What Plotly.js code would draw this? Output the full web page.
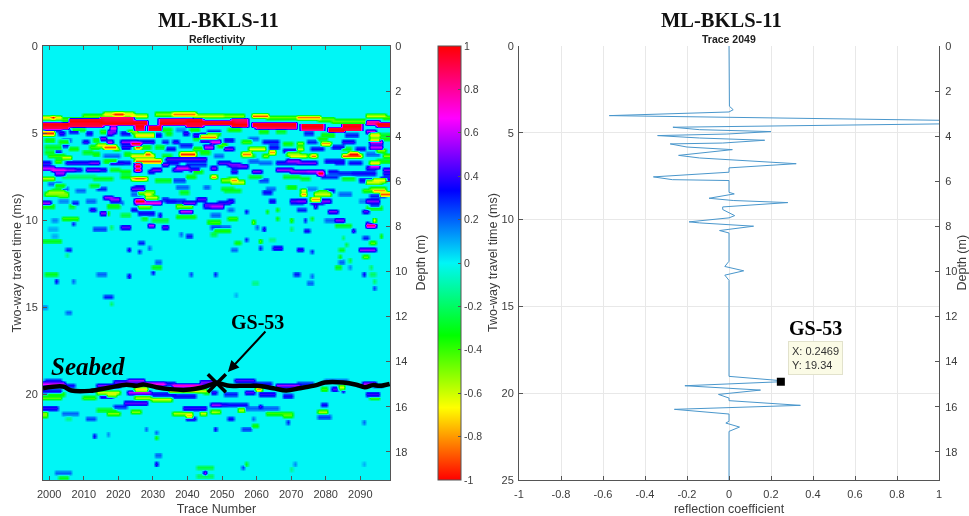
<!DOCTYPE html>
<html>
<head>
<meta charset="utf-8">
<script src="https://cdn.plot.ly/plotly-3.0.1.min.js"></script>
<style>html,body{margin:0;padding:0;background:#fff;overflow:hidden}#plot{width:969px;height:516px;filter:blur(0.5px)}</style>
</head>
<body>
<div id="plot"></div>
<script>
// Reflectivity section: each entry = [time ms, first trace, last trace, reflectivity]
const upperBandNegative = [
[4.05,1998,2003,-.7],[4.1,2001,2001,-1],[4.15,2004,2010,-.4],[4.0,2010,2016,-.45],[3.9,2016,2024,-.7],[3.9,2019,2021,-.95],
[3.95,2024,2028,-.65],[3.9,2031,2036,-.5],[3.85,2036,2042,-.85],[3.95,2042,2050,-.6],[3.95,2050,2056,-.5],[3.95,2059,2063,-.9],
[4.05,2063,2072,-.45],[4.1,2072,2078,-.85],[4.2,2078,2082,-.45],[4.3,2082,2091,-.45],[4.0,2092,2097,-.6],[4.1,2097,2098,-.4]];
const upperBandPositive = [
[4.47,1998,2005,1],[4.6,1998,2005,.95],[4.33,2006,2015,1],[4.45,2006,2015,.95],[4.22,2015,2024,.9],[4.35,2015,2024,1],
[4.4,2024,2028,1],[4.55,2025,2027,1],[4.7,2025,2027,.9],[4.73,2029,2032,1],[4.27,2032,2039,.95],[4.38,2032,2039,1],
[4.33,2040,2044,1],[4.45,2040,2044,.95],[4.37,2045,2053,1],[4.45,2053,2057,1],[4.3,2053,2057,.9],
[4.47,2059,2071,1],[4.58,2060,2071,.9],[4.58,2073,2079,1],[4.7,2073,2079,.85],[4.8,2081,2085,1],[4.62,2085,2090,1],[4.72,2085,2090,.95],
[4.4,2092,2095,.8],[4.5,2095,2098,1]];
const layer5ms = [
[4.8,1999,2003,.35],[4.75,2007,2010,-.3],[4.85,2017,2019,.5],[4.7,2018,2019,.7],[4.95,2021,2023,.35],[4.8,2033,2035,-.35],[4.75,2037,2039,.15],
[4.8,2041,2043,-.35],[4.85,2046,2049,.3],[4.8,2052,2055,-.35],[4.9,2061,2063,-.35],[4.85,2066,2068,-.3],[4.95,2074,2076,.3],[5.05,2079,2082,-.35],
[5.05,2086,2089,.3],[4.85,2092,2094,.6],[5.1,2093,2095,-.7],[5.05,2096,2098,-.3],
[5.0,1998,2001,-.95],[5.0,2003,2004,.4],[4.85,2006,2008,.35],[5.0,2011,2012,.35],[4.9,2015,2016,-.4],[5.0,2017,2018,.5],[4.9,2023,2025,-.5],
[5.1,2025,2030,-.7],[5.1,2031,2032,.35],[5.0,2034,2035,-.35],[4.95,2039,2040,.4],[5.05,2042,2045,.4],[5.0,2046,2049,-.4],[5.2,2044,2048,-.85]];
const layer5p5ms = [
[5.4,1999,2001,-.35],[5.35,2004,2006,.2],[5.5,2003,2005,-.35],[5.45,2010,2011,.4],[5.4,2013,2014,-.35],[5.3,2015,2016,.5],[5.5,2017,2018,.6],
[5.5,2021,2025,.55],[5.5,2025,2030,.4],[5.6,2024,2026,1],[5.45,2033,2034,.3],[5.5,2036,2037,.4],[5.3,2042,2044,-.3],[5.4,2044,2047,.45],[5.45,2047,2049,.7],
[5.4,2051,2053,.35],[5.5,2056,2058,-.4],[5.3,2058,2060,.2],[5.5,2062,2066,.35],[5.55,2068,2070,-.35],[5.6,2072,2073,-.5],[5.45,2075,2077,.3],
[5.3,2078,2080,-.35],[5.55,2079,2081,-.8],[5.5,2085,2088,.4],[5.4,2093,2095,-.7],[5.5,2093,2096,.7],[5.3,2096,2098,-.35],
[5.75,1999,2003,-.3],[5.7,2004,2005,.3],[5.85,2006,2008,-.35],[5.75,2012,2014,-.4],[5.7,2014,2016,-.6],[5.8,2016,2019,-.9],[5.85,2019,2020,-.5],
[5.75,2021,2023,.4],[5.8,2025,2026,-.9],[5.75,2027,2029,-.35],[5.8,2031,2033,-.3],[5.85,2034,2036,.35],[5.7,2038,2041,.3],[5.85,2042,2045,-.4],
[5.8,2045,2047,.6],[5.7,2049,2051,-.4],[5.85,2051,2053,.5],[5.9,2058,2062,-.65],[5.8,2064,2066,.35],[5.95,2068,2071,.4],[5.85,2072,2073,-.6],
[5.9,2076,2079,.35],[5.75,2082,2085,.35],[5.9,2085,2087,-.3],[5.85,2089,2091,.35],[5.8,2093,2096,.6],[5.95,2095,2097,-.5]];
const layer6ms = [
[6.1,1999,2001,-.3],[6.1,2002,2003,.3],[6.3,2000,2004,-.4],[6.35,2004,2006,-.6],[6.1,2010,2012,-.3],[6.2,2013,2014,-.35],[6.3,2016,2020,.2],
[6.15,2022,2023,-.35],[6.25,2024,2030,-.7],[6.2,2028,2029,-.9],[6.3,2033,2035,-.3],[6.15,2038,2042,-.95],[6.1,2044,2046,-.35],[6.25,2048,2050,.2],
[6.3,2056,2059,-.35],[6.15,2056,2058,-.85],[6.05,2064,2065,-.8],[6.3,2062,2063,-.5],[6.2,2069,2072,-.55],[6.3,2070,2074,-.65],[6.25,2075,2077,-.35],
[6.3,2076,2077,-.85],[6.25,2085,2090,-.9],[6.2,2087,2089,-1],[6.15,2092,2095,.2],[6.3,2097,2098,-.5]];
const layer7ms = [
[6.7,1998,2000,.4],[6.6,2002,2003,-.4],[6.7,2005,2012,.4],[6.7,2012,2014,.5],[6.6,2016,2019,-.35],[6.65,2018,2021,.4],[6.7,2021,2023,.35],
[6.6,2025,2032,-.9],[6.7,2025,2026,1],[6.9,2025,2026,1],[7.1,2025,2026,1],[6.75,2033,2034,.5],[6.45,2034,2045,.45],[6.7,2035,2037,.35],[6.75,2040,2045,.3],
[6.7,2049,2052,.45],[6.75,2052,2055,.5],[6.9,2053,2056,.45],[6.9,2055,2057,.5],[6.6,2058,2060,.2],[6.7,2061,2064,.2],[6.65,2066,2072,.4],[6.7,2072,2077,.5],
[6.6,2069,2072,.55],[6.55,2080,2085,.35],[6.7,2083,2085,.35],[6.7,2087,2090,.35],[6.85,2093,2095,.65],[6.7,2093,2095,-.7],[6.55,2095,2098,-.35],[6.95,2092,2094,.4],
[7.0,1998,2001,.6],[7.05,2001,2004,.7],[7.3,2002,2004,.55],[7.05,2004,2007,.55],[7.05,2008,2009,.4],[7.05,2011,2014,.5],[7.1,2014,2016,.4],[7.1,2018,2020,-.3],
[7.2,2021,2023,-.35],[7.1,2030,2032,.5],[7.2,2029,2030,.4],[7.1,2036,2038,.45],[7.0,2037,2040,.6],[7.1,2041,2043,.45],[7.2,2042,2044,-.35],[7.0,2047,2048,.5],
[7.2,2053,2054,.4],[7.2,2059,2061,.5],[7.05,2066,2070,.55],[7.15,2070,2075,.55],[7.2,2075,2079,.6],[7.25,2078,2079,1],[7.15,2081,2083,.35],[7.25,2084,2088,.3],
[7.3,2088,2090,.35],[7.1,2097,2098,.5],[7.3,2097,2098,.4],[7.3,2091,2094,.35]];
const layer7p7ms = [
[7.55,1998,2000,-.4],[7.6,1998,2001,-.55],[7.45,2004,2010,-.2],[7.5,2011,2013,-.2],[7.6,2013,2018,-.3],[7.5,2021,2023,-.35],[7.55,2024,2028,-.75],[7.6,2025,2027,-.9],
[7.7,2031,2035,-.3],[7.7,2036,2039,.25],[7.45,2040,2042,-.35],[7.5,2047,2048,-.8],[7.6,2052,2054,-.4],[7.65,2050,2053,-.5],[7.7,2053,2054,-.8],[7.75,2053,2056,-.6],
[7.5,2058,2061,-.3],[7.65,2061,2063,.25],[7.5,2068,2072,-.3],[7.6,2073,2075,-.3],[7.5,2079,2083,.3],[7.55,2085,2088,-.3],[7.65,2090,2093,.35],[7.75,2092,2095,-.6],
[7.65,2094,2097,-.65],[7.8,2093,2096,-.5],[7.6,2096,2098,.4],[7.85,2000,2003,.2]];
const layer8p5ms = [
[8.0,2002,2004,-.35],[8.15,2003,2005,.2],[8.25,2001,2003,-.4],[8.4,2000,2004,-.55],[8.5,1999,2005,-.5],[8.6,2003,2005,-.45],[8.3,2008,2010,.2],[8.0,2012,2014,-.3],
[8.2,2014,2016,.3],[8.2,2024,2027,.5],[8.1,2025,2027,.4],[8.45,2024,2026,.2],[8.4,2026,2030,-.5],[8.5,2028,2029,-.7],[8.1,2037,2040,.2],[8.4,2038,2040,-.3],
[8.1,2045,2046,.2],[8.2,2050,2053,-.3],[8.3,2051,2055,-.3],[8.15,2063,2065,.2],[8.4,2062,2064,.35],[8.1,2069,2071,-.35],[8.3,2073,2074,-.65],[8.45,2073,2074,-.8],
[8.2,2075,2077,.15],[8.4,2078,2080,-.5],[8.5,2077,2081,-.6],[8.25,2080,2082,.35],[8.5,2084,2087,.2],[8.3,2091,2094,-.4],[8.15,2093,2097,-.5],[8.3,2094,2097,-.8],
[8.45,2096,2098,-.9],[8.6,2093,2097,.3],
[8.95,1998,2000,.55],[8.85,2003,2005,.15],[8.95,2007,2008,.3],[8.85,2011,2013,.2],[8.7,2016,2018,.55],[8.8,2018,2020,.55],[9.0,2018,2021,.2],
[8.85,2025,2027,1],[8.7,2028,2031,-.6],[8.95,2025,2032,.7],[8.85,2034,2036,.35],[8.75,2033,2034,.3],[8.9,2037,2039,.3],[8.95,2039,2042,.5],[8.8,2043,2045,.45],
[9.1,2045,2049,.45],[9.0,2049,2052,.4],[8.85,2052,2053,.4],[8.9,2064,2065,.35],[8.9,2070,2072,.45],[8.85,2072,2074,.5],[9.0,2070,2073,.3],[8.8,2076,2078,-.8],
[8.95,2076,2079,.4],[8.9,2079,2081,.5],[8.9,2090,2092,.15],[8.85,2092,2095,.5],[9.05,2093,2095,.3],[9.3,2092,2096,-.3]];
const scatterLeft = [
[9.2,1998,2001,-.35],[9.15,2006,2007,-.3],[9.4,2012,2013,.4],[9.6,2015,2016,.5],[9.6,2017,2017,-.35],[9.15,2017,2020,-.35],[9.7,2021,2023,-.25],[9.4,2024,2025,.35],
[9.2,2026,2029,-.5],[9.55,2026,2030,.35],[9.85,2027,2028,-.3],[9.7,2032,2032,.4],[9.95,2030,2034,-.25],[9.2,2037,2041,-.5],[9.47,2038,2041,.6],[9.8,2037,2042,-.35],
[9.15,2045,2048,.45],[9.7,2047,2049,.2],[10.1,2046,2049,-.35],[10.4,2047,2049,.25],[9.9,2004,2008,-.4],[10.0,2001,2002,.15],[10.2,2007,2007,.3],[10.45,2013,2016,.25],
[10.4,2021,2023,.45],[10.27,2029,2030,.6],[10.37,2033,2034,.45],[10.45,2000,2002,.1],[10.35,2018,2018,-.2],[11.15,1998,2003,-.3],[10.85,2001,2002,.1],[11.7,2005,2006,.3],
[11.7,2023,2023,.4],[11.3,2026,2027,.3],[11.8,2026,2026,.3],[11.6,2029,2029,.2],[12.65,2030,2032,-.3],[12.4,2031,2032,.2],[10.85,2040,2041,.3],[10.75,2038,2038,.2],
[10.75,2048,2048,-.2],[13.05,1999,2002,-.3],[13.45,2002,2002,.35],[13.5,2007,2007,.2],[13.1,2014,2016,.2],[13.2,2023,2023,.4],[12.95,2030,2030,.35],[13.1,2041,2041,.25],
[13.05,2048,2048,.3],[14.4,2016,2018,.3],[14.8,2018,2018,-.2],[15.3,2005,2006,.2],[15.0,1998,1999,.15],[12.0,2005,2005,-.15]];
const scatterRight = [
[9.15,2047,2050,.6],[9.45,2057,2057,.35],[9.4,2052,2053,.2],[9.45,2063,2063,-.35],[9.4,2066,2066,-.35],[9.4,2072,2074,.3],[9.15,2077,2077,.5],[9.45,2081,2083,.5],
[9.5,2091,2092,.45],[9.7,2047,2049,.2],[10.1,2047,2049,-.4],[9.9,2052,2054,-.4],[10.1,2059,2059,-.5],[9.9,2066,2066,-.35],[10.0,2070,2070,-.4],[9.95,2074,2074,.3],
[9.85,2076,2076,-.3],[10.0,2083,2085,.5],[9.95,2080,2082,.2],[10.0,2094,2094,-.65],[10.2,2092,2092,.5],[10.3,2092,2094,.9],[10.4,2047,2052,.2],[10.6,2048,2052,-.35],
[10.4,2060,2060,.2],[10.5,2062,2062,.4],[10.45,2070,2070,-.2],[10.55,2074,2075,.35],[10.3,2083,2087,-.3],[10.55,2088,2088,.45],[10.95,2091,2092,.3],[10.85,2096,2096,-.35],
[10.75,2047,2048,-.25],[11.3,2054,2055,-.35],[11.1,2057,2057,.3],[11.2,2061,2061,-.45],[11.05,2064,2065,-.15],[10.95,2085,2085,-.2],[11.55,2061,2061,.3],[11.55,2065,2067,.4],
[11.65,2053,2054,.2],[11.65,2072,2073,.4],[11.8,2076,2076,.3],[11.7,2084,2085,-.3],[11.4,2086,2086,-.25],[11.7,2090,2094,.55],[11.3,2093,2094,-.45],[12.1,2091,2092,-.45],
[12.1,2084,2084,-.35],[12.4,2084,2085,.2],[12.3,2087,2087,-.25],[12.65,2083,2084,-.3],[12.65,2087,2087,.15],[12.7,2093,2093,-.2],[13.05,2048,2048,.3],[13.05,2071,2072,.3],
[13.2,2076,2076,.2],[13.05,2091,2091,.35],[13.05,2093,2094,-.2],[13.45,2094,2094,-.2],[13.55,2059,2060,-.15],[13.6,2075,2076,.2],[13.9,2094,2094,.25],[14.25,2054,2054,.1]];
const seabedUpper = [
[19.35,1998,2004,.65],[19.2,1999,2003,.3],[19.46,2004,2007,.35],[19.46,2014,2020,.5],[19.3,2019,2026,.45],[19.2,2023,2027,.55],[19.37,2028,2033,.7],[19.4,2033,2036,.4],
[19.5,2036,2044,.75],[19.27,2044,2048,.5],[19.2,2054,2059,.45],[19.35,2059,2064,.35],[19.5,2066,2072,.55],[19.35,2072,2076,.3],[19.2,2080,2086,.2],[19.4,2091,2094,.6],[19.45,2094,2096,.25]];
const seabedLower = [
[19.75,1998,2003,.35],[20.0,2000,2004,-.35],[20.15,1998,2003,-.45],[20.2,2010,2013,-.4],[20.05,2015,2018,.4],[20.0,2017,2019,-.6],[19.9,2014,2020,-.6],[19.85,2023,2029,.6],
[19.65,2025,2028,-.7],[20.2,2025,2029,-.55],[20.3,2030,2035,-.6],[20.0,2029,2036,.35],[20.05,2036,2042,.35],[19.8,2035,2045,-.6],[19.85,2045,2048,-.35],
[20.5,2022,2028,.45],[20.65,2019,2022,.3],[20.9,2014,2019,-.3],[21.05,2017,2020,-.5],[20.95,2024,2026,-.5],[20.8,1998,2002,.4],[21.1,1998,1999,-.5],[21.15,1998,1999,-.5],
[21.1,2004,2008,.2],[21.4,2011,2013,.25],[21.05,2036,2041,-.55],[21.15,2040,2041,-.75],[21.1,2044,2045,-.6],[20.75,2039,2045,.4],[20.6,2047,2049,.55],[20.95,2047,2049,-.5],
[21.4,2040,2042,.4],[21.4,2005,2006,-.15],[21.95,2048,2048,.35],[22.0,2028,2028,.2],[22.15,2031,2031,.2],[22.45,2031,2031,-.35],[22.35,2013,2013,.35],[22.25,2017,2017,.15],
[23.5,2031,2032,.2],[23.95,2031,2031,.4],[24.5,2002,2006,.2],[24.8,2003,2005,-.3],[24.15,2043,2046,-.25],[24.45,2045,2045,.55],[24.7,2043,2047,-.2],
[19.85,2047,2048,.4],[20.0,2051,2054,.3],[19.85,2057,2059,.45],[19.7,2060,2061,-.8],[19.95,2061,2065,.4],[20.05,2068,2070,.35],[19.65,2079,2080,-.4],[19.7,2082,2083,.45],
[19.8,2085,2085,.4],[19.55,2084,2085,-.6],[20.0,2092,2095,.4],[20.2,2093,2095,-.4],[20.6,2047,2051,.4],[20.55,2051,2057,.35],[20.7,2061,2061,.45],[20.8,2057,2066,.2],
[20.95,2047,2048,-.55],[20.9,2055,2056,-.55],[21.1,2063,2070,-.4],[21.2,2068,2070,-.45],[20.6,2079,2080,.35],[21.0,2078,2080,-.55],[21.3,2078,2081,.25],[21.75,2059,2060,-.35],
[21.4,2052,2053,.35],[21.4,2059,2059,.2],[21.57,2069,2069,.3],[21.57,2091,2091,.2],[21.95,2056,2058,.25],[23.95,2057,2057,-.3],[24.2,2056,2056,.25],[23.95,2071,2071,.15],
[24.25,2070,2070,-.15],[24.2,2047,2047,-.25],[23.95,2091,2091,.1]];

const seabedTrace = [1998.2,2004,2006.4,2011.7,2017.5,2022.3,2025.2,2027.2,2031,2034.9,2039.7,2044.5,2048.4,2052.2,2055.1,2060,2064.8,2068.6,2072.5,2077.3,2079.7,2085,2088.9,2091.3,2093.7,2095.6,2098.5];
const seabedTime = [19.66,19.56,19.79,19.81,19.62,19.46,19.52,19.44,19.6,19.71,19.75,19.6,19.37,19.52,19.52,19.52,19.66,19.79,19.66,19.48,19.33,19.33,19.46,19.6,19.48,19.52,19.41];

const curveValue = [0,0,.002,.02,0,-.57,1.65,-.267,-.14,.2,-.01,-.34,-.14,.17,-.03,-.28,-.2,.016,-.24,-.14,.32,0,0,-.36,-.27,0,0,.025,-.095,.02,.28,-.03,-.03,.027,0,-.19,-.14,.117,-.045,0,0,-.02,.07,-.02,0,0,.23,.2469,-.21,.15,-.05,0,0,.34,-.26,0,0,-.015,.05,0,0];
const curveTime = [0,3.09,3.47,3.67,3.8,4.01,4.39,4.68,4.82,4.93,5.07,5.16,5.3,5.43,5.59,5.64,5.82,5.97,6.3,6.45,6.78,7.02,7.27,7.54,7.7,7.75,8.43,8.52,8.77,8.9,9.02,9.27,9.42,9.77,9.9,10.13,10.19,10.38,10.63,10.77,12.4,12.7,12.95,13.2,13.5,19.03,19.26,19.34,19.57,19.82,20.07,20.28,20.43,20.7,20.93,21.2,21.62,21.72,21.95,22.2,25];

const colourStops = [[0,'#ff0000'],[1/6,'#ffff00'],[2/6,'#00ff00'],[3/6,'#00f6f6'],[4/6,'#0000ff'],[5/6,'#ff00ff'],[1,'#ff0000']];
const colourTicks = [-1,-.8,-.6,-.4,-.2,0,.2,.4,.6,.8,1];
const depthTicks = [0,2,4,6,8,10,12,14,16,18];
const traceTicks = [2000,2010,2020,2030,2040,2050,2060,2070,2080,2090];
const coefTicks = [-1,-.8,-.6,-.4,-.2,0,.2,.4,.6,.8,1];
const coefLabels = ['-1','-0.8','-0.6','-0.4','-0.2','0','0.2','0.4','0.6','0.8','1'];

const traces = []; for (let t=1998;t<=2098;t++) traces.push(t);
const times = []; for (let i=0;i<=250;i++) times.push(i/10);
const z = times.map(()=>traces.map(()=>0));
const put=(r,c,v)=>{ if(r<0||r>250||c<1998||c>2098)return; const cur=z[r][c-1998]; if(Math.abs(v)>Math.abs(cur)) z[r][c-1998]=v; };
const paint=(list,edge)=>list.forEach(([t,a,b,v])=>{
  const r=Math.round(t*10);
  [[0,1],[-1,edge],[1,edge]].forEach(([dr,w])=>{ for(let c=a;c<=b;c++) put(r+dr,c,v*w); });
});
paint(upperBandPositive,.95);
[upperBandNegative,layer5ms,layer5p5ms,layer6ms,layer7ms,layer7p7ms,layer8p5ms,scatterLeft,scatterRight,seabedUpper,seabedLower].forEach(l=>paint(l,.7));

const sans="'Liberation Sans',Arial,sans-serif", serif="'Liberation Serif','Times New Roman',serif";
const ink='#3c3c3c';
const W=969,H=516;
const fx=p=>p/W, fy=p=>1-p/H;
const axisBase={showline:true,linecolor:'#555',linewidth:1,ticks:'inside',ticklen:4,tickcolor:'#555',tickwidth:1,zeroline:false,showgrid:false,tickfont:{family:sans,size:11,color:ink}};
const tf={family:sans,size:12.5,color:ink};
const sideTitle=(text,px)=>({xref:'paper',yref:'paper',x:fx(px),y:fy(263),xanchor:'center',yanchor:'middle',textangle:-90,text,showarrow:false,font:tf});

const data=[
 {type:'heatmap',x:traces,y:times,z:z,xaxis:'x',yaxis:'y',zmin:-1,zmax:1,zsmooth:'best',colorscale:colourStops,hoverinfo:'skip',
  colorbar:{x:fx(438),xanchor:'left',xpad:0,y:fy(46),yanchor:'top',ypad:0,len:434,lenmode:'pixels',thickness:23,thicknessmode:'pixels',tickvals:colourTicks,ticktext:coefLabels,
   ticks:'inside',ticklen:3,tickcolor:'#555',outlinecolor:'#555',outlinewidth:1,tickfont:{family:sans,size:10.5,color:ink}}},
 {type:'scatter',mode:'lines',x:seabedTrace,y:seabedTime,xaxis:'x',yaxis:'y',line:{color:'#000',width:4.5,shape:'spline'},hoverinfo:'skip'},
 {type:'scatter',mode:'markers',x:[2048.5],y:[19.37],xaxis:'x',yaxis:'y',marker:{symbol:'x-thin-open',size:18,color:'#000',line:{color:'#000',width:3.5}},hoverinfo:'skip'},
 {type:'scatter',mode:'markers',x:[2050],y:[10],xaxis:'x',yaxis:'y2',marker:{opacity:0},hoverinfo:'skip'},
 {type:'scatter',mode:'lines',x:curveValue,y:curveTime,xaxis:'x2',yaxis:'y3',line:{color:'#4a97cc',width:1},hoverinfo:'skip'},
 {type:'scatter',mode:'markers',x:[.2469],y:[19.34],xaxis:'x2',yaxis:'y3',marker:{symbol:'square',size:8,color:'#000'},hoverinfo:'skip'},
 {type:'scatter',mode:'markers',x:[0],y:[10],xaxis:'x2',yaxis:'y4',marker:{opacity:0},hoverinfo:'skip'}
];

const layout={
 width:W,height:H,margin:{l:0,r:0,t:0,b:0},paper_bgcolor:'#fff',plot_bgcolor:'#fff',showlegend:false,
 xaxis:Object.assign({},axisBase,{domain:[fx(43),fx(390)],range:[1998.2,2098.6],anchor:'y',mirror:'ticks',tickvals:traceTicks,ticklabelstandoff:4,title:{text:'Trace Number',font:tf,standoff:6}}),
 yaxis:Object.assign({},axisBase,{domain:[fy(480),fy(46)],range:[24.93,0],anchor:'x',tickvals:[0,5,10,15,20],ticklabelstandoff:2}),
 yaxis2:Object.assign({},axisBase,{domain:[fy(480),fy(46)],range:[19.25,0],anchor:'x',overlaying:'y',side:'right',tickvals:depthTicks,ticklabelstandoff:2}),
 xaxis2:Object.assign({},axisBase,{domain:[fx(519),fx(939)],range:[-1,1],anchor:'y3',showgrid:true,gridcolor:'#e8e8e8',tickvals:coefTicks,ticktext:coefLabels,ticklabelstandoff:4,title:{text:'reflection coefficient',font:tf,standoff:6}}),
 yaxis3:Object.assign({},axisBase,{domain:[fy(480),fy(46)],range:[25,0],anchor:'x2',showgrid:true,gridcolor:'#e8e8e8',tickvals:[0,5,10,15,20,25],ticklabelstandoff:2}),
 yaxis4:Object.assign({},axisBase,{domain:[fy(480),fy(46)],range:[19.25,0],anchor:'x2',overlaying:'y3',side:'right',tickvals:depthTicks,ticklabelstandoff:3}),
 annotations:[
  sideTitle('Two-way travel time (ms)',16.5), sideTitle('Depth (m)',420.5), sideTitle('Two-way travel time (ms)',493), sideTitle('Depth (m)',961.5),
  {xref:'paper',yref:'paper',x:fx(218),y:fy(20.5),xanchor:'center',yanchor:'middle',text:'<b>ML-BKLS-11</b>',showarrow:false,font:{family:serif,size:20.5,color:'#111'}},
  {xref:'paper',yref:'paper',x:fx(217),y:fy(39),xanchor:'center',yanchor:'middle',text:'<b>Reflectivity</b>',showarrow:false,font:{family:sans,size:10.5,color:'#222'}},
  {xref:'paper',yref:'paper',x:fx(721),y:fy(20.5),xanchor:'center',yanchor:'middle',text:'<b>ML-BKLS-11</b>',showarrow:false,font:{family:serif,size:20.5,color:'#111'}},
  {xref:'paper',yref:'paper',x:fx(729),y:fy(39),xanchor:'center',yanchor:'middle',text:'<b>Trace 2049</b>',showarrow:false,font:{family:sans,size:10.5,color:'#222'}},
  {xref:'x',yref:'y',x:2000,y:18.43,xanchor:'left',yanchor:'middle',text:'<b><i>Seabed</i></b>',showarrow:false,font:{family:serif,size:25,color:'#000'}},
  {xref:'x',yref:'y',x:2051.7,y:18.72,ax:39,ay:-42,axref:'pixel',ayref:'pixel',text:' ',showarrow:true,arrowhead:2,arrowsize:1.1,arrowwidth:2,arrowcolor:'#000',font:{size:1}},
  {xref:'x',yref:'y',x:2060.2,y:15.85,xanchor:'center',yanchor:'middle',text:'<b>GS-53</b>',showarrow:false,font:{family:serif,size:20,color:'#000'}},
  {xref:'x2',yref:'y3',x:.41,y:16.25,xanchor:'center',yanchor:'middle',text:'<b>GS-53</b>',showarrow:false,font:{family:serif,size:20,color:'#000'}},
  {xref:'x2',yref:'y3',x:.281,y:17.97,xanchor:'left',yanchor:'middle',text:'X: 0.2469<br>Y: 19.34',align:'left',showarrow:false,bgcolor:'#fbfbe6',bordercolor:'#e2e2cc',borderwidth:1,borderpad:3,font:{family:sans,size:11,color:'#333'}}
 ]
};
Plotly.newPlot('plot',data,layout,{displayModeBar:false,staticPlot:true});
</script>
</body>
</html>
